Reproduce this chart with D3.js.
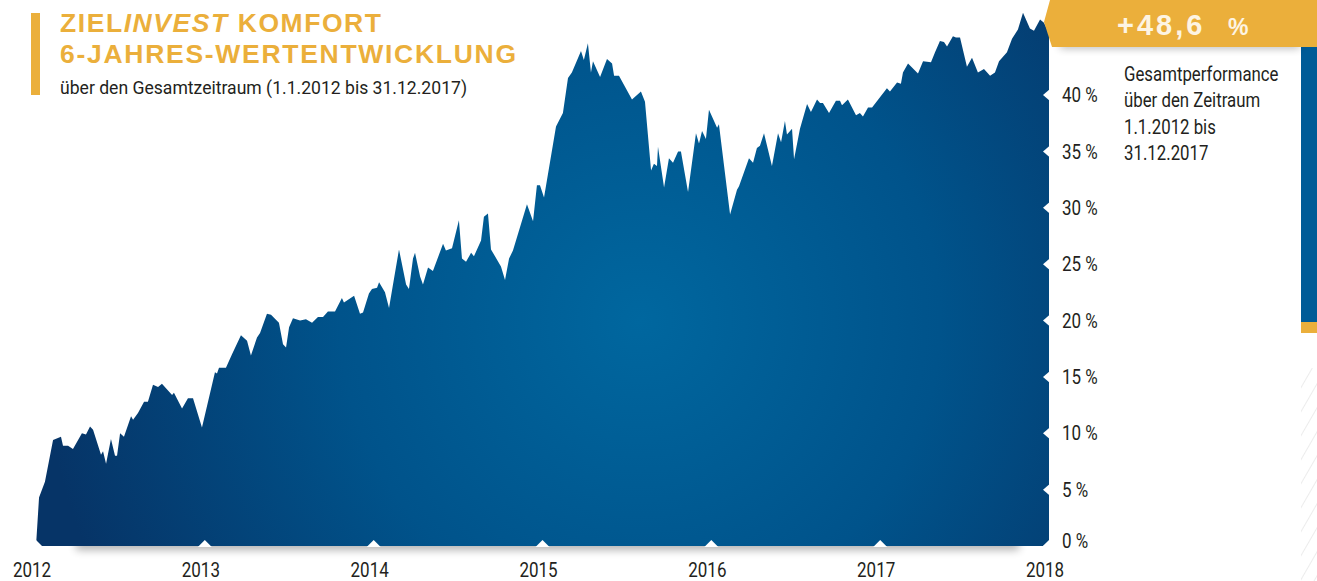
<!DOCTYPE html>
<html>
<head>
<meta charset="utf-8">
<script src="https://cdnjs.cloudflare.com/ajax/libs/d3/7.8.5/d3.min.js"></script>
<style>
  body { margin: 0; background: #fff; overflow: hidden; }
  svg { display: block; }
</style>
</head>
<body>
<div id="my_datavis"></div>
<script>
// Wertentwicklung in % seit 1.1.2012, x = Zeitpunkt als Dezimaljahr
var years = [2012.000, 2012.018, 2012.053, 2012.101, 2012.148, 2012.160, 2012.190, 2012.219, 2012.272, 2012.296,
  2012.320, 2012.338, 2012.385, 2012.397, 2012.415, 2012.444, 2012.468, 2012.480, 2012.498, 2012.521,
  2012.563, 2012.575, 2012.604, 2012.640, 2012.663, 2012.693, 2012.723, 2012.746, 2012.806, 2012.817,
  2012.865, 2012.900, 2012.930, 2012.983, 2013.060, 2013.072, 2013.084, 2013.125, 2013.161, 2013.214,
  2013.250, 2013.273, 2013.309, 2013.327, 2013.368, 2013.392, 2013.439, 2013.463, 2013.481, 2013.499,
  2013.522, 2013.564, 2013.599, 2013.635, 2013.670, 2013.700, 2013.729, 2013.771, 2013.812, 2013.824,
  2013.884, 2013.919, 2013.937, 2013.972, 2013.990, 2014.020, 2014.032, 2014.067, 2014.091, 2014.109,
  2014.150, 2014.192, 2014.209, 2014.233, 2014.245, 2014.275, 2014.292, 2014.322, 2014.351, 2014.411,
  2014.428, 2014.464, 2014.505, 2014.523, 2014.547, 2014.577, 2014.594, 2014.636, 2014.653, 2014.677,
  2014.695, 2014.754, 2014.778, 2014.802, 2014.825, 2014.908, 2014.944, 2014.967, 2014.985, 2015.009,
  2015.080, 2015.121, 2015.151, 2015.174, 2015.228, 2015.245, 2015.269, 2015.287, 2015.299, 2015.341,
  2015.382, 2015.412, 2015.424, 2015.453, 2015.530, 2015.583, 2015.607, 2015.643, 2015.660, 2015.678,
  2015.684, 2015.720, 2015.749, 2015.773, 2015.803, 2015.820, 2015.862, 2015.909, 2015.927, 2015.945,
  2015.968, 2015.986, 2016.034, 2016.045, 2016.111, 2016.152, 2016.164, 2016.223, 2016.247, 2016.270,
  2016.288, 2016.312, 2016.359, 2016.395, 2016.413, 2016.436, 2016.448, 2016.478, 2016.490, 2016.525,
  2016.567, 2016.590, 2016.626, 2016.644, 2016.661, 2016.697, 2016.738, 2016.762, 2016.774, 2016.809,
  2016.857, 2016.880, 2016.898, 2016.928, 2016.952, 2017.040, 2017.058, 2017.100, 2017.123, 2017.135,
  2017.165, 2017.224, 2017.254, 2017.301, 2017.325, 2017.354, 2017.378, 2017.396, 2017.431, 2017.449,
  2017.473, 2017.514, 2017.544, 2017.579, 2017.615, 2017.651, 2017.680, 2017.704, 2017.751, 2017.781,
  2017.816, 2017.846, 2017.887, 2017.911, 2017.947, 2017.970, 2018.000];

var perf = [0.0, 4.3, 5.7, 9.4, 9.7, 8.9, 8.9, 8.6, 10.0, 9.9,
  10.6, 10.3, 8.1, 8.4, 7.3, 9.5, 8.0, 8.0, 10.0, 9.7,
  11.5, 11.2, 11.8, 12.8, 12.8, 14.3, 14.1, 14.4, 13.4, 13.6,
  12.2, 13.1, 13.1, 10.5, 15.4, 15.3, 15.8, 15.8, 17.0, 18.7,
  18.2, 16.9, 18.5, 18.9, 20.6, 20.5, 19.8, 17.9, 17.6, 19.4,
  20.2, 20.0, 20.1, 19.8, 20.3, 20.3, 20.8, 20.8, 22.0, 21.6,
  22.2, 20.6, 20.7, 22.4, 22.8, 22.9, 23.4, 22.5, 21.1, 22.7,
  26.3, 23.2, 22.8, 25.5, 26.0, 23.9, 23.2, 24.7, 24.4, 26.8,
  26.2, 26.4, 28.9, 25.5, 25.2, 26.0, 25.7, 27.1, 29.2, 29.5,
  26.3, 24.8, 23.6, 25.5, 26.2, 30.3, 28.8, 32.0, 32.0, 30.9,
  37.2, 38.4, 41.5, 42.0, 43.9, 43.1, 44.6, 42.0, 43.0, 41.6,
  43.2, 42.8, 41.7, 41.7, 39.6, 40.3, 39.4, 33.3, 33.9, 33.7,
  35.4, 31.8, 34.4, 34.0, 35.0, 35.0, 31.4, 36.6, 35.7, 36.8,
  36.1, 38.7, 37.1, 37.4, 29.4, 31.6, 31.9, 34.4, 34.0, 35.3,
  35.5, 36.6, 33.7, 36.6, 35.8, 37.7, 36.5, 37.0, 34.3, 37.0,
  39.2, 38.5, 39.6, 39.3, 39.3, 38.4, 39.5, 39.5, 39.1, 39.6,
  38.2, 38.4, 38.1, 38.9, 38.9, 40.6, 40.3, 41.1, 41.0, 42.0,
  42.8, 41.9, 43.0, 42.9, 43.8, 44.8, 44.7, 44.3, 45.2, 45.1,
  45.1, 42.5, 43.3, 42.0, 42.3, 41.7, 42.0, 43.0, 43.8, 45.0,
  45.8, 47.3, 45.9, 45.7, 46.7, 46.4, 45.5];

var yearTicks = [2012, 2013, 2014, 2015, 2016, 2017, 2018];
var pctTicks = [0, 5, 10, 15, 20, 25, 30, 35, 40];
var totalPerf = "+48,6";
var noteLines = ["Gesamtperformance", "über den Zeitraum", "1.1.2012 bis", "31.12.2017"];

var width = 1317, height = 581;
var yellow = "#ebaf3b", textColor = "#231f20";
var narrow = "Roboto, 'Liberation Sans', sans-serif";
var bold = "'Liberation Sans', Roboto, sans-serif";

// squeeze a text horizontally, like a condensed face
function condense(sel, k) {
  sel.each(function() {
    var w = this.getComputedTextLength();
    d3.select(this)
      .attr("textLength", w * k)
      .attr("lengthAdjust", "spacingAndGlyphs");
  });
}

var svg = d3.select("#my_datavis")
  .append("svg")
  .attr("width", width)
  .attr("height", height);

var defs = svg.append("defs");

var grad = defs.append("radialGradient")
  .attr("id", "areaGrad")
  .attr("gradientUnits", "userSpaceOnUse")
  .attr("cx", 640).attr("cy", 320).attr("r", 600);
grad.append("stop").attr("offset", 0).attr("stop-color", "#00679f");
grad.append("stop").attr("offset", 0.5).attr("stop-color", "#00538b");
grad.append("stop").attr("offset", 1).attr("stop-color", "#063467");

var blur = defs.append("filter").attr("id", "soft")
  .attr("x", "-10%").attr("y", "-100%").attr("width", "120%").attr("height", "300%");
blur.append("feGaussianBlur").attr("stdDeviation", 4);

var hatch = defs.append("pattern")
  .attr("id", "hatch")
  .attr("patternUnits", "userSpaceOnUse")
  .attr("width", 12).attr("height", 12)
  .attr("patternTransform", "rotate(30)");
hatch.append("line")
  .attr("x1", 0).attr("y1", 0).attr("x2", 0).attr("y2", 12)
  .attr("stroke", "#ececec").attr("stroke-width", 2);

var x = d3.scaleLinear()
  .domain([2012, 2018])
  .range([36, 1049]);

var y = d3.scaleLinear()
  .domain([0, 40])
  .range([546, 95]);

// soft shadow under the area
svg.append("rect")
  .attr("x", x(2012) + 40).attr("y", y(0) - 8)
  .attr("width", x(2018) - x(2012) - 70).attr("height", 12)
  .attr("fill", "#000")
  .attr("opacity", 0.3)
  .attr("filter", "url(#soft)");

var area = d3.area()
  .x(function(d) { return x(d[0]); })
  .y0(y(0))
  .y1(function(d) { return y(d[1]); });

svg.append("path")
  .datum(d3.zip(years, perf))
  .attr("fill", "url(#areaGrad)")
  .attr("d", area);

// white notch ticks
svg.selectAll(".xnotch")
  .data(yearTicks)
  .enter()
  .append("path")
  .attr("class", "xnotch")
  .attr("fill", "#fff")
  .attr("d", function(d) {
    var px = x(d), py = y(0) + 1;
    return "M" + (px - 7) + "," + py + "L" + px + "," + (py - 7) + "L" + (px + 7) + "," + py + "Z";
  });

svg.selectAll(".ynotch")
  .data(pctTicks)
  .enter()
  .append("path")
  .attr("class", "ynotch")
  .attr("fill", "#fff")
  .attr("d", function(d) {
    var px = x(2018) + 1, py = y(d);
    return "M" + px + "," + (py - 6) + "L" + (px - 7) + "," + py + "L" + px + "," + (py + 6) + "Z";
  });

// axis labels
svg.selectAll(".xlab")
  .data(yearTicks)
  .enter()
  .append("text")
  .attr("class", "xlab")
  .attr("x", function(d) { return x(d) - 4; })
  .attr("y", 577)
  .attr("text-anchor", "middle")
  .attr("font-family", narrow)
  .attr("font-size", 20)
  .attr("fill", textColor)
  .text(function(d) { return d; })
  .call(condense, 0.85);

svg.selectAll(".ylab")
  .data(pctTicks)
  .enter()
  .append("text")
  .attr("class", "ylab")
  .attr("x", 1062)
  .attr("y", function(d) { return Math.min(y(d), y(0) - 5); })
  .attr("dy", "0.36em")
  .attr("font-family", narrow)
  .attr("font-size", 20)
  .attr("fill", textColor)
  .text(function(d) { return d + " %"; })
  .call(condense, 0.85);

// right side panels
svg.append("rect")
  .attr("x", 1301).attr("y", 40).attr("width", 16).attr("height", 282)
  .attr("fill", "#005b97");
svg.append("rect")
  .attr("x", 1301).attr("y", 322).attr("width", 16).attr("height", 11)
  .attr("fill", yellow);
svg.append("rect")
  .attr("x", 1301).attr("y", 368).attr("width", 16).attr("height", 213)
  .attr("fill", "url(#hatch)");

// badge with total performance
svg.append("rect")
  .attr("x", 1060).attr("y", 40).attr("width", 240).attr("height", 8)
  .attr("fill", "#000").attr("opacity", 0.3)
  .attr("filter", "url(#soft)");
svg.append("path")
  .attr("fill", yellow)
  .attr("d", "M1050,0L1317,0L1317,47L1052,47L1044,22Z");

var badge = svg.append("text")
  .attr("x", 1117).attr("y", 35)
  .attr("font-family", bold)
  .attr("font-weight", "bold")
  .attr("fill", "#fdf4e3");
badge.append("tspan")
  .attr("font-size", 29)
  .attr("letter-spacing", 3)
  .text(totalPerf);
badge.append("tspan")
  .attr("x", 1228)
  .attr("font-size", 23)
  .text("%");

svg.selectAll(".note")
  .data(noteLines)
  .enter()
  .append("text")
  .attr("class", "note")
  .attr("x", 1124)
  .attr("y", function(d, i) { return 81 + i * 26.3; })
  .attr("font-family", narrow)
  .attr("font-size", 21)
  .attr("fill", textColor)
  .text(function(d) { return d; })
  .call(condense, 0.8);

// title block
svg.append("rect")
  .attr("x", 31).attr("y", 13).attr("width", 9).attr("height", 82)
  .attr("fill", yellow);

var t1 = svg.append("text")
  .attr("x", 60).attr("y", 32)
  .attr("font-family", bold)
  .attr("font-weight", "bold")
  .attr("font-size", 26.5)
  .attr("fill", yellow)
  .attr("textLength", 321)
  .attr("lengthAdjust", "spacing");
t1.append("tspan").text("ZIEL");
t1.append("tspan").attr("font-style", "italic").text("INVEST");
t1.append("tspan").text(" KOMFORT");

svg.append("text")
  .attr("x", 60).attr("y", 63)
  .attr("font-family", bold)
  .attr("font-weight", "bold")
  .attr("font-size", 26.5)
  .attr("fill", yellow)
  .attr("textLength", 456)
  .attr("lengthAdjust", "spacing")
  .text("6-JAHRES-WERTENTWICKLUNG");

svg.append("text")
  .attr("x", 60).attr("y", 94)
  .attr("font-family", narrow)
  .attr("font-size", 18.5)
  .attr("fill", textColor)
  .attr("textLength", 407)
  .attr("lengthAdjust", "spacingAndGlyphs")
  .text("über den Gesamtzeitraum (1.1.2012 bis 31.12.2017)");
</script>
</body>
</html>
